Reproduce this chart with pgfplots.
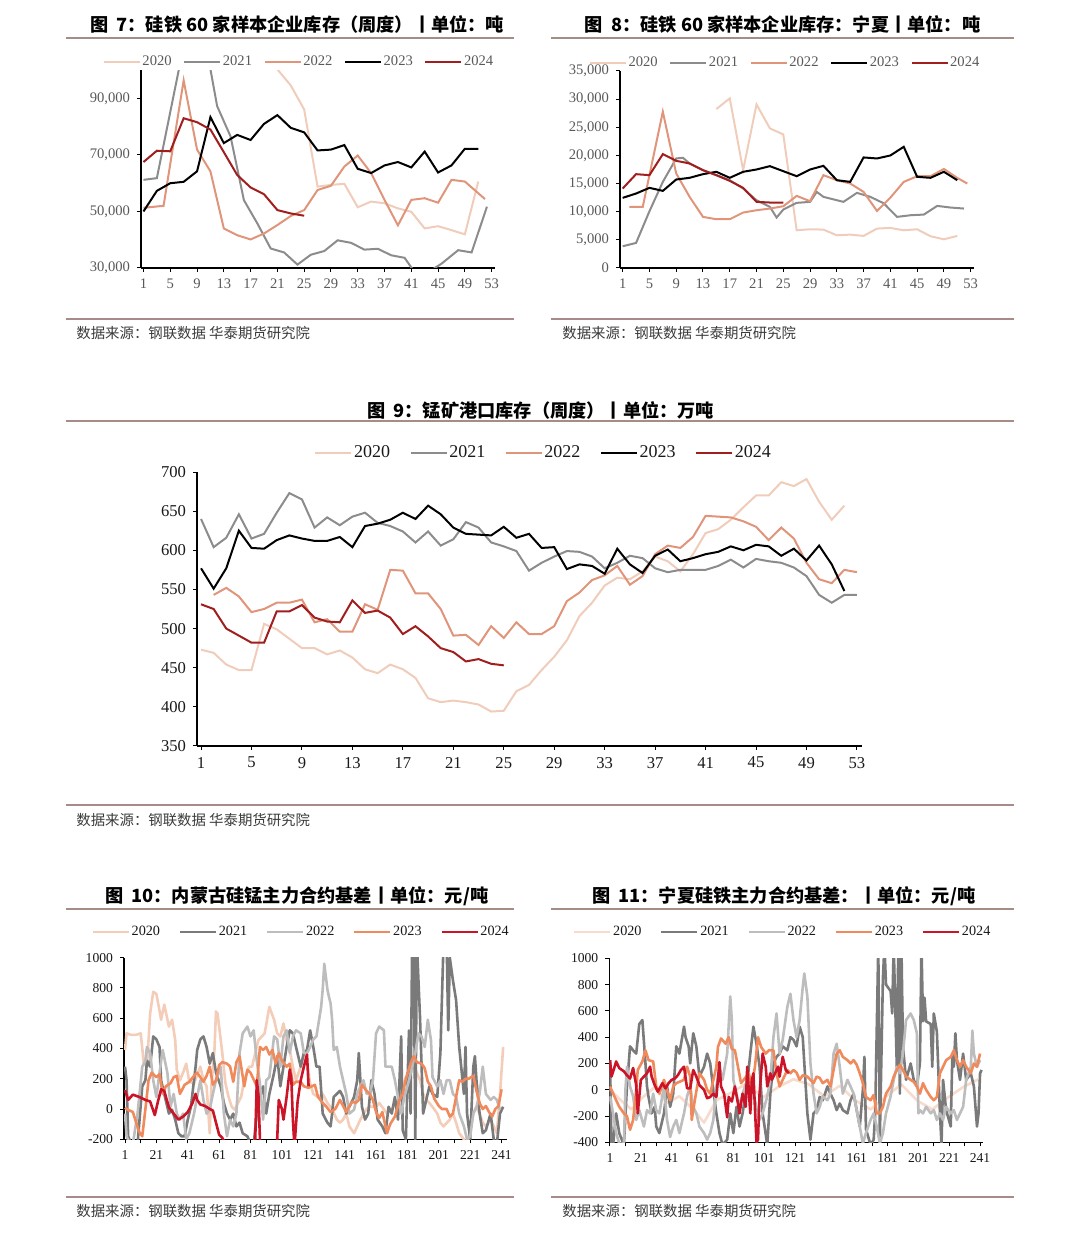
\documentclass[border=0pt]{standalone}
\usepackage{pgfplots}
\pgfplotsset{compat=1.18}
\usepackage{fontspec}
\setmainfont{Liberation Serif}
\newfontfamily\cjk{Noto Sans CJK SC}
\definecolor{cA}{HTML}{F0CDBB}
\definecolor{cB}{HTML}{8C8C8C}
\definecolor{cC}{HTML}{E0957A}
\definecolor{cD}{HTML}{000000}
\definecolor{cE}{HTML}{A01E1E}
\definecolor{bA}{HTML}{F4CDB8}
\definecolor{bB}{HTML}{7A7A7A}
\definecolor{bC}{HTML}{BDBDBD}
\definecolor{bD}{HTML}{F08A5D}
\definecolor{bE}{HTML}{CC1428}
\definecolor{tgray}{HTML}{595959}
\definecolor{tline}{HTML}{A58C84}
\definecolor{sline}{HTML}{A98A8A}
\definecolor{stext}{HTML}{3A3A3A}
\pgfplotsset{
  base/.style={
    scale only axis, anchor=south west,
    axis lines=left, axis line style={-, line width=0.6pt, black},
    tick align=outside, major tick length=2pt, minor tick length=2pt,
    every tick/.style={black, line width=0.5pt},
    scaled ticks=false,
    /pgf/number format/assume math mode=true,
    legend columns=5,
    legend cell align=left,
  },
}
\newcommand{\ttl}{\cjk\bfseries\fontsize{9.1}{11}\selectfont}
\newcommand{\src}{\cjk\fontsize{7.2}{9}\selectfont\color{stext}}
\newcommand{\tu}{图\hspace{0.45em}}
\begin{document}
\begin{tikzpicture}
\path[use as bounding box] (0,0) rectangle (540pt,616.5pt);
% titles and rules
\node[font=\ttl] at (148.6pt,604.2pt) {\tu 7：硅铁 60 家样本企业库存（周度）丨单位：吨};
\node[font=\ttl] at (391.3pt,604.2pt) {\tu 8：硅铁 60 家样本企业库存：宁夏丨单位：吨};
\node[font=\ttl] at (270.3pt,411.5pt) {\tu 9：锰矿港口库存（周度）丨单位：万吨};
\node[font=\ttl] at (148.4pt,168.3pt) {\tu 10：内蒙古硅锰主力合约基差丨单位：元/吨};
\node[font=\ttl] at (391.9pt,168.3pt) {\tu 11：宁夏硅铁主力合约基差：丨单位：元/吨};
\draw[tline, line width=1pt] (33pt,597.6pt) -- (257pt,597.6pt);
\draw[tline, line width=1pt] (275.5pt,597.6pt) -- (507pt,597.6pt);
\draw[tline, line width=1pt] (33pt,406pt) -- (507pt,406pt);
\draw[tline, line width=1pt] (33pt,161.9pt) -- (257pt,161.9pt);
\draw[tline, line width=1pt] (275.5pt,161.9pt) -- (507pt,161.9pt);
\draw[sline, line width=0.8pt] (33pt,457pt) -- (257pt,457pt);
\draw[sline, line width=0.8pt] (275.5pt,457pt) -- (507pt,457pt);
\draw[sline, line width=0.8pt] (33pt,214pt) -- (507pt,214pt);
\draw[sline, line width=0.8pt] (33pt,18pt) -- (257pt,18pt);
\draw[sline, line width=0.8pt] (275.5pt,18pt) -- (507pt,18pt);
\node[anchor=west, inner sep=0pt, font=\src] at (38pt,450pt) {数据来源：钢联数据 华泰期货研究院};
\node[anchor=west, inner sep=0pt, font=\src] at (281pt,450pt) {数据来源：钢联数据 华泰期货研究院};
\node[anchor=west, inner sep=0pt, font=\src] at (38pt,206.5pt) {数据来源：钢联数据 华泰期货研究院};
\node[anchor=west, inner sep=0pt, font=\src] at (38pt,11pt) {数据来源：钢联数据 华泰期货研究院};
\node[anchor=west, inner sep=0pt, font=\src] at (281pt,11pt) {数据来源：钢联数据 华泰期货研究院};

% ---------------- Figure 7
\begin{axis}[base, at={(70.5pt,482.5pt)}, width=177pt, height=98.9pt,
  xmin=0.63, xmax=53.5, ymin=30000, ymax=100000,
  xtick={1,5,...,53}, ytick={30000,50000,70000,90000},
  tick label style={font=\fontsize{7.3}{8}\selectfont, text=tgray},
  legend style={draw=none, fill=none, at={(0.446,1.042)}, anchor=center,
    font=\fontsize{7.3}{8}\selectfont, text=tgray, nodes={inner sep=0.8pt},
    /tikz/every even column/.append style={column sep=5pt}},
  legend image code/.code={\draw[#1] (0pt,0pt) -- (18pt,0pt);},
  every axis plot/.append style={line width=1pt}]
\addplot[cA] coordinates {(19,104000) (21,100300) (23,94600) (25,86100) (27,58800) (29,59400) (31,59800) (33,51500) (35,53500) (37,52900) (39,51100) (41,49900) (43,44000) (45,44800) (47,43400) (49,41900) (51,60600)};
\addplot[cB] coordinates {(1,61200) (3,61800) (5,85200) (7,108600) (9,115000) (11,100300) (12,87300) (14,76600) (16,54000) (18,45800) (20,36900) (22,35500) (24,31200) (26,34700) (28,36000) (30,39800) (32,38900) (34,36500) (36,36800) (38,34500) (40,33600) (41.5,28500) (43.5,28500) (45.5,31500) (48,36300) (50,35500) (52.3,51700)};
\addplot[cC] coordinates {(1,51300) (4,52000) (7,96400) (9,71900) (11,64200) (13,44000) (15,41600) (17,40100) (19,42200) (21,45200) (23,48400) (25,50500) (27,57600) (29,59100) (31,65900) (33,69800) (35,63600) (37,54100) (39,45100) (41,54100) (43,54700) (45,53100) (47,61200) (49,60600) (52,54400)};
\addplot[cD] coordinates {(1,50000) (3,57300) (5,60000) (7,60500) (9,64200) (11,83400) (13,74200) (15,77100) (17,75300) (19,81000) (21,84100) (23,79600) (25,78000) (27,71600) (29,71900) (31,73500) (33,65100) (35,63600) (37,66300) (39,67500) (41,65600) (43,71200) (45,63800) (47,66300) (49,72200) (51,72200)};
\addplot[cE] coordinates {(1,67500) (3,71500) (5,71300) (7,83000) (9,81600) (11,79000) (13,71000) (15,62900) (17,58500) (19,56100) (21,50500) (23,49300) (25,48500)};
\legend{2020,2021,2022,2023,2024}
\end{axis}

% ---------------- Figure 8
\begin{axis}[base, at={(310pt,482.5pt)}, width=177pt, height=98.5pt,
  xmin=0.6, xmax=53.5, ymin=0, ymax=35000,
  xtick={1,5,...,53}, ytick={0,5000,...,35000},
  tick label style={font=\fontsize{7.3}{8}\selectfont, text=tgray},
  legend style={draw=none, fill=none, at={(0.466,1.041)}, anchor=center,
    font=\fontsize{7.3}{8}\selectfont, text=tgray, nodes={inner sep=0.8pt},
    /tikz/every even column/.append style={column sep=5pt}},
  legend image code/.code={\draw[#1] (0pt,0pt) -- (18pt,0pt);},
  every axis plot/.append style={line width=1pt}]
\addplot[cA] coordinates {(15,28240) (17,30140) (19,17380) (21,29070) (23,24800) (25,23730) (27,6700) (29,6880) (31,6820) (33,5810) (35,5930) (37,5700) (39,7000) (41,7120) (43,6700) (45,6880) (47,5640) (49,5100) (51,5700)};
\addplot[cB] coordinates {(1,3860) (3,4450) (5,10080) (7,15300) (9,19460) (10,19580) (11,18570) (13,17380) (15,16490) (17,15600) (19,14120) (21,12040) (23,10860) (24,8960) (25,10380) (27,11570) (29,11750) (30,13520) (31,12640) (33,12040) (34,11750) (36,13350) (38,12640) (40,11500) (42,9080) (44,9370) (46,9490) (48,11030) (50,10740) (52,10560)};
\addplot[cC] coordinates {(2,10860) (4,10860) (7,27760) (9,16790) (11,12640) (13,9080) (15,8660) (17,8660) (19,9850) (21,10260) (23,10560) (25,10970) (27,12810) (29,11870) (31,16490) (33,15600) (35,15010) (37,13520) (39,10140) (41,12500) (43,15300) (45,16300) (47,16300) (49,17600) (51,16000) (52.5,15000)};
\addplot[cD] coordinates {(1,12460) (3,13230) (5,14240) (7,13700) (9,15720) (11,16020) (13,16670) (15,17090) (17,16020) (19,17090) (21,17500) (23,18090) (25,17200) (27,16310) (29,17500) (31,18150) (33,15600) (35,15300) (37,19640) (39,19460) (41,19990) (43,21530) (45,16200) (47,16020) (49,17090) (51,15600)};
\addplot[cE] coordinates {(1,14120) (3,16670) (5,16490) (7,20230) (9,19040) (11,18570) (13,17380) (15,16490) (17,15480) (19,14240) (21,11750) (23,11630) (25,11630)};
\legend{2020,2021,2022,2023,2024}
\end{axis}

% ---------------- Figure 9
\begin{axis}[base, at={(98.5pt,243.5pt)}, width=332.5pt, height=137pt,
  xmin=0.68, xmax=53.4, ymin=350, ymax=700,
  xtick={1,5,...,53}, ytick={350,400,...,700},
  tick label style={font=\fontsize{8.3}{9}\selectfont, text=black!90},
  legend style={draw=none, fill=none, at={(0.521,1.069)}, anchor=center,
    font=\fontsize{9}{10}\selectfont, text=black!90, nodes={inner sep=0.8pt},
    /tikz/every even column/.append style={column sep=9pt}},
  legend image code/.code={\draw[#1] (0pt,0pt) -- (18pt,0pt);},
  every axis plot/.append style={line width=1pt}]
\addplot[cA] coordinates {(1,473) (2,469) (3,454) (4,447) (5,447) (6,506) (7,499) (8,487) (9,475) (10,475) (11,467) (12,472) (13,463) (14,448) (15,443) (16,454) (17,448) (18,437) (19,411) (20,406) (21,408) (22,406) (23,403) (24,394) (25,395) (26,420) (27,428) (28,447) (29,464) (30,485) (31,516) (32,533) (33,555) (34,565) (35,563) (36,573) (37,592) (38,586) (39,573) (40,595) (41,622) (42,627) (43,639) (44,655) (45,670) (46,670) (47,687) (48,682) (49,691) (50,662) (51,639) (52,657)};
\addplot[cB] coordinates {(1,640) (2,604) (3,616) (4,646) (5,615) (6,621) (7,648) (8,673) (9,665) (10,629) (11,642) (12,632) (13,643) (14,648) (15,635) (16,631) (17,624) (18,610) (19,624) (20,606) (21,614) (22,636) (23,629) (24,610) (25,605) (26,599) (27,574) (28,584) (29,592) (30,599) (31,598) (32,592) (33,577) (34,584) (35,593) (36,590) (37,577) (38,572) (39,575) (40,575) (41,575) (42,580) (43,588) (44,578) (45,589) (46,586) (47,584) (48,578) (49,567) (50,543) (51,533) (52,543) (53,543)};
\addplot[cC] coordinates {(2,543) (3,552) (4,541) (5,521) (6,525) (7,533) (8,533) (9,537) (10,508) (11,512) (12,496) (13,496) (14,531) (15,524) (16,575) (17,574) (18,545) (19,545) (20,525) (21,491) (22,492) (23,479) (24,503) (25,488) (26,508) (27,493) (28,493) (29,503) (30,535) (31,546) (32,562) (33,568) (34,580) (35,556) (36,567) (37,595) (38,606) (39,603) (40,617) (41,644) (42,643) (43,642) (44,637) (45,630) (46,613) (47,629) (48,615) (49,584) (50,563) (51,558) (52,575) (53,572)};
\addplot[cD] coordinates {(1,577) (2,551) (3,577) (4,625) (5,603) (6,602) (7,613) (8,619) (9,615) (10,612) (11,612) (12,617) (13,604) (14,631) (15,634) (16,639) (17,648) (18,640) (19,657) (20,646) (21,629) (22,621) (23,620) (24,619) (25,630) (26,616) (27,621) (28,603) (29,604) (30,576) (31,582) (32,580) (33,570) (34,602) (35,582) (36,571) (37,593) (38,601) (39,586) (40,590) (41,595) (42,598) (43,605) (44,600) (45,607) (46,605) (47,593) (48,602) (49,587) (50,606) (51,582) (52,548)};
\addplot[cE] coordinates {(1,531) (2,525) (3,500) (4,491) (5,482) (6,482) (7,522) (8,522) (9,530) (10,514) (11,509) (12,508) (13,536) (14,520) (15,523) (16,514) (17,493) (18,503) (19,490) (20,475) (21,470) (22,458) (23,461) (24,455) (25,453)};
\legend{2020,2021,2022,2023,2024}
\end{axis}

% ---------------- Figure 10
\begin{axis}[base, at={(62pt,46.85pt)}, width=191.3pt, height=90.8pt,
  xmin=0.36, xmax=244.2, ymin=-200, ymax=1000,
  xtick={1,21,...,241}, minor xtick={11,31,...,231}, ytick={-200,0,...,1000},
  tick label style={font=\fontsize{6.8}{8}\selectfont, text=black!90, /pgf/number format/1000 sep={}},
  legend style={draw=none, fill=none, at={(0.4625,1.1415)}, anchor=center,
    font=\fontsize{7.1}{8}\selectfont, text=black!90, nodes={inner sep=0.8pt},
    /tikz/every even column/.append style={column sep=8.5pt}},
  legend image code/.code={\draw[#1] (0pt,0pt) -- (18pt,0pt);},
  every axis plot/.append style={line width=1.3pt, line join=round}]
\addplot[bA] coordinates {(1,390) (2,500) (5,490) (8,490) (11,500) (13,300) (15,280) (17,630) (19,775) (21,760) (23,650) (24,590) (26,690) (29,545) (31,590) (33,455) (34,260) (36,190) (38,240) (40,300) (42,180) (45,170) (49,280) (51,190) (53,150) (55,-160) (56,150) (58,390) (59,645) (60,630) (63,370) (65,170) (67,80) (69,15) (71,-5) (73,40) (75,80) (77,190) (80,280) (82,280) (84,370) (86,455) (90,500) (93,675) (96,590) (98,500) (100,480) (102,565) (104,455) (106,390) (108,280) (110,190) (113,280) (115,370) (117,300) (119,170) (121,100) (124,80) (127,100) (130,40) (133,0) (136,-70) (138,-90) (140,-70) (142,-30) (144,-115) (147,-160) (149,-115) (151,-70) (153,-30) (155,0) (157,15) (161,15) (163,40) (168,-30) (172,15) (176,80) (178,150) (180,210) (183,260) (185,280) (187,240) (189,190) (191,100) (193,60) (195,40) (198,0) (200,-30) (202,-90) (204,-115) (208,-70) (210,-30) (212,-90) (214,-160) (217,-200) (219,-230) (221,-140) (223,-30) (225,15) (227,-30) (229,-90) (231,-115) (234,-70) (236,-115) (238,-160) (240,100) (242,410)};
\addplot[bB] coordinates {(1,280) (2,190) (3,-180) (5,-230) (9,-230) (12,150) (14,190) (15,320) (17,280) (19,480) (21,460) (23,410) (24,190) (26,100) (29,-30) (31,-5) (33,-70) (35,-160) (37,-180) (39,-180) (41,-70) (43,15) (46,280) (47,390) (49,460) (51,480) (53,410) (55,300) (57,370) (59,240) (62,150) (64,40) (66,-30) (68,-70) (70,-30) (72,-115) (74,-90) (76,-160) (79,-180) (81,-230) (83,-230) (85,-30) (87,80) (89,150) (91,-30) (93,100) (96,240) (98,350) (100,150) (102,280) (104,410) (106,520) (108,500) (110,410) (113,280) (115,370) (117,390) (119,520) (121,410) (123,280) (125,280) (127,-30) (130,-90) (132,-115) (133,-30) (134,80) (136,100) (138,120) (140,80) (142,-30) (144,15) (147,80) (149,190) (150,370) (152,15) (154,-70) (156,-30) (158,190) (160,100) (162,-70) (165,-115) (167,-160) (169,15) (171,-30) (173,80) (175,-70) (177,480) (178,-140) (180,-200) (182,520) (183,-30) (184,1100) (185,1100) (186,-200) (187,1100) (189,610) (191,-30) (193,60) (195,150) (197,100) (200,80) (202,370) (204,1100) (206,1100) (207,520) (208,1000) (210,850) (212,720) (214,410) (217,100) (218,410) (219,-30) (221,-200) (223,280) (224,350) (225,190) (227,-30) (229,-160) (231,-140) (234,-30) (236,-200) (238,-230) (240,-30) (242,15)};
\addplot[bC] coordinates {(1,-30) (2,-180) (4,-230) (6,-230) (9,-30) (12,280) (14,320) (15,410) (17,370) (19,190) (21,80) (23,240) (25,390) (28,240) (30,15) (32,100) (34,-30) (36,-70) (38,-30) (40,-200) (42,-160) (45,-30) (47,80) (49,190) (51,60) (53,-30) (55,-5) (57,100) (59,190) (62,280) (64,-30) (66,-180) (68,-70) (70,-115) (72,-30) (74,370) (76,500) (79,545) (81,480) (83,520) (85,320) (87,170) (89,-70) (91,190) (93,210) (96,480) (98,460) (100,280) (102,480) (104,520) (106,370) (108,480) (110,520) (113,500) (115,370) (117,370) (119,410) (121,460) (123,480) (124,545) (126,675) (127,790) (128,960) (130,790) (131,740) (132,700) (133,590) (134,390) (136,410) (138,280) (140,190) (142,100) (144,-30) (147,-5) (149,100) (151,150) (153,190) (155,100) (157,100) (159,190) (161,500) (163,545) (166,520) (167,280) (169,280) (171,280) (173,190) (175,80) (177,-30) (179,80) (182,190) (184,280) (186,370) (188,500) (190,480) (192,410) (194,590) (196,455) (197,210) (200,150) (202,190) (204,100) (206,190) (208,190) (210,100) (212,80) (214,-30) (217,-115) (219,-200) (221,-180) (223,-30) (225,15) (227,100) (229,280) (231,100) (234,60) (236,80) (238,60) (240,-5)};
\addplot[bD] coordinates {(1,10) (2,0) (6,-20) (10,-150) (12,-180) (14,0) (16,190) (18,240) (21,210) (23,230) (25,100) (27,150) (30,170) (32,210) (34,220) (36,100) (39,160) (42,180) (45,220) (47,240) (51,180) (53,220) (55,280) (57,160) (59,190) (61,290) (63,310) (66,300) (68,280) (70,180) (72,310) (74,350) (77,150) (79,260) (81,240) (85,150) (87,410) (89,390) (91,410) (93,360) (95,390) (97,300) (99,370) (101,320) (104,280) (106,300) (108,160) (110,180) (113,180) (115,150) (118,140) (122,160) (124,80) (127,40) (129,20) (132,-20) (135,0) (138,60) (140,20) (142,-20) (144,20) (146,50) (148,40) (150,60) (152,160) (155,120) (157,100) (159,60) (161,-20) (163,-60) (165,-20) (168,-160) (170,-100) (173,-50) (176,60) (178,100) (180,200) (183,300) (185,350) (187,310) (190,300) (192,270) (194,180) (196,150) (198,70) (201,20) (203,0) (206,0) (208,-50) (210,-30) (212,80) (214,190) (216,180) (218,200) (220,200) (223,220) (225,120) (227,40) (229,0) (231,20) (233,-20) (235,-50) (237,0) (239,20) (241,130)};
\addplot[bE] coordinates {(1,125) (3,60) (6,95) (10,80) (14,60) (17,50) (20,-40) (22,50) (24,130) (26,120) (29,10) (32,-30) (35,-70) (38,-50) (41,-20) (44,40) (46,100) (47,60) (49,30) (52,20) (55,0) (57,-10) (59,-90) (61,-170) (63,-190) (65,-230) (70,-400) (80,-400) (84,-200) (85,190) (86,100) (87,-200) (88,-400) (95,-400) (98,-200) (99,60) (101,0) (102,-70) (104,80) (106,260) (107,200) (108,-70) (109,-250) (111,50) (113,190) (115,280) (117,360) (118,150)};
\legend{2020,2021,2022,2023,2024}
\end{axis}

% ---------------- Figure 11
\begin{axis}[base, at={(304.65pt,45.35pt)}, width=187pt, height=92pt,
  xmin=0.55, xmax=243.1, ymin=-400, ymax=1000,
  xtick={1,21,...,241}, minor xtick={11,31,...,231}, ytick={-400,-200,...,1000},
  tick label style={font=\fontsize{6.8}{8}\selectfont, text=black!90, /pgf/number format/1000 sep={}},
  legend style={draw=none, fill=none, at={(0.463,1.143)}, anchor=center,
    font=\fontsize{7.1}{8}\selectfont, text=black!90, nodes={inner sep=0.8pt},
    /tikz/every even column/.append style={column sep=8.5pt}},
  legend image code/.code={\draw[#1] (0pt,0pt) -- (18pt,0pt);},
  every axis plot/.append style={line width=1.3pt, line join=round}]
\addplot[bA!70] coordinates {(1,0) (8,-80) (15,-150) (22,-60) (30,20) (38,-100) (46,-50) (55,-150) (62,-250) (70,-80) (80,-20) (90,50) (100,-60) (110,20) (120,80) (130,40) (140,-50) (150,30) (160,-80) (170,-150) (180,-50) (190,40) (200,-80) (210,-150) (220,-60) (230,20) (240,80)};
\addplot[bB] coordinates {(1,225) (2,-420) (3,-420) (5,-180) (7,-330) (10,-420) (12,25) (14,330) (16,300) (18,275) (20,500) (22,530) (24,200) (25,25) (26,-55) (28,-180) (30,-130) (31,-280) (33,-330) (36,-180) (38,25) (40,-130) (42,-30) (44,330) (46,275) (49,480) (50,400) (52,330) (53,200) (55,430) (57,330) (59,100) (62,175) (64,275) (66,200) (68,0) (70,-180) (72,-330) (74,-420) (77,-380) (79,-180) (81,-330) (83,-130) (85,-280) (87,-180) (90,50) (92,275) (94,480) (96,350) (98,175) (100,-180) (103,-420) (105,-30) (107,200) (109,250) (111,275) (113,330) (116,300) (118,400) (120,380) (122,330) (124,480) (126,400) (129,-180) (131,-380) (133,-180) (135,-155) (137,-55) (139,-80) (142,25) (144,-30) (146,-80) (148,-155) (150,-105) (152,-155) (155,-180) (157,-80) (159,-30) (161,-155) (163,-280) (165,0) (166,250) (167,-300) (170,-420) (172,-380) (173,-180) (175,1100) (176,-380) (178,850) (179,1100) (180,800) (183,750) (184,580) (185,1100) (187,175) (188,1100) (189,-30) (190,1100) (191,330) (193,75) (196,200) (198,75) (200,25) (202,200) (203,1100) (204,520) (205,700) (206,520) (209,500) (210,175) (211,580) (213,440) (215,-180) (216,-420) (217,75) (219,-155) (222,-280) (223,250) (224,175) (225,430) (226,225) (228,75) (230,275) (232,75) (235,125) (237,25) (239,-280) (240,-180) (241,125) (242,150)};
\addplot[bC] coordinates {(1,-50) (3,-180) (5,-330) (7,-410) (10,-410) (11,0) (12,175) (14,25) (16,-50) (18,-230) (20,-155) (23,-280) (25,-155) (27,-180) (29,-30) (31,-155) (33,-180) (36,25) (38,-230) (40,-360) (42,-280) (44,-230) (46,-330) (49,-180) (51,-50) (53,25) (55,-130) (57,-180) (59,-280) (62,-330) (64,-380) (66,-330) (68,-230) (70,25) (72,175) (74,75) (77,275) (79,710) (80,530) (81,75) (83,-30) (85,-130) (87,-30) (90,75) (92,25) (94,-30) (96,-130) (98,-230) (100,-180) (103,-50) (105,75) (107,400) (109,580) (111,275) (113,380) (116,630) (118,730) (120,530) (122,400) (124,530) (126,780) (127,885) (129,710) (131,200) (133,-30) (135,-180) (137,-130) (139,-50) (142,-80) (144,-30) (146,275) (148,350) (150,175) (152,-30) (155,75) (157,25) (159,-30) (161,-155) (163,-280) (165,-410) (167,-330) (170,-230) (172,-180) (174,-280) (176,-410) (178,-330) (180,-180) (183,-50) (185,75) (187,175) (189,125) (191,275) (193,530) (196,580) (198,530) (200,430) (201,-180) (202,-155) (204,-180) (206,-130) (209,-180) (211,-155) (213,-230) (215,-180) (217,-230) (219,-130) (222,-180) (224,-155) (226,-230) (228,-180) (230,-130) (232,75) (235,175) (236,450) (237,275) (239,175) (241,225)};
\addplot[bD] coordinates {(1,25) (5,-80) (7,-130) (10,-180) (12,-200) (14,-305) (16,-230) (18,0) (19,150) (22,215) (24,300) (26,225) (29,215) (31,25) (33,-30) (36,75) (40,-80) (42,25) (44,50) (49,75) (51,175) (53,100) (54,-230) (56,-80) (59,125) (62,75) (64,0) (66,-30) (70,175) (71,325) (73,390) (76,350) (78,400) (80,310) (82,300) (84,175) (86,50) (91,125) (93,25) (95,175) (97,400) (99,325) (102,275) (104,300) (107,300) (109,125) (111,25) (113,75) (116,150) (118,125) (120,150) (122,130) (124,75) (126,110) (129,100) (133,50) (135,100) (137,90) (139,50) (142,75) (144,25) (146,150) (148,275) (150,300) (152,250) (155,225) (157,200) (159,225) (161,190) (163,125) (165,50) (167,-55) (170,-80) (172,-40) (174,-180) (176,-180) (178,-130) (180,-30) (183,25) (185,100) (187,150) (189,190) (191,150) (193,100) (196,75) (198,60) (200,25) (202,-30) (204,50) (206,0) (209,-55) (211,-80) (213,-55) (215,125) (217,175) (219,225) (222,250) (224,300) (226,225) (228,175) (230,225) (232,175) (235,125) (237,200) (239,175) (241,275)};
\addplot[bE] coordinates {(1,225) (2,100) (4,175) (5,215) (7,165) (10,140) (12,110) (14,85) (16,165) (18,35) (19,-180) (21,75) (23,100) (25,125) (27,175) (28,100) (30,35) (32,-15) (35,50) (37,10) (39,50) (41,75) (43,85) (45,110) (47,150) (49,175) (51,10) (53,10) (55,150) (57,100) (59,35) (62,0) (64,-65) (66,-55) (68,-30) (70,-55) (72,210) (73,25) (75,-30) (77,-210) (78,-55) (80,-90) (82,25) (84,-105) (85,-180) (87,-30) (89,-130) (90,175) (92,-180) (93,75) (94,125) (96,-400) (97,-380) (98,-30) (100,275) (102,175) (103,25) (105,125) (106,75) (110,175) (111,100) (113,250) (115,150) (117,125)};
\legend{2020,2021,2022,2023,2024}
\end{axis}
\end{tikzpicture}
\end{document}
